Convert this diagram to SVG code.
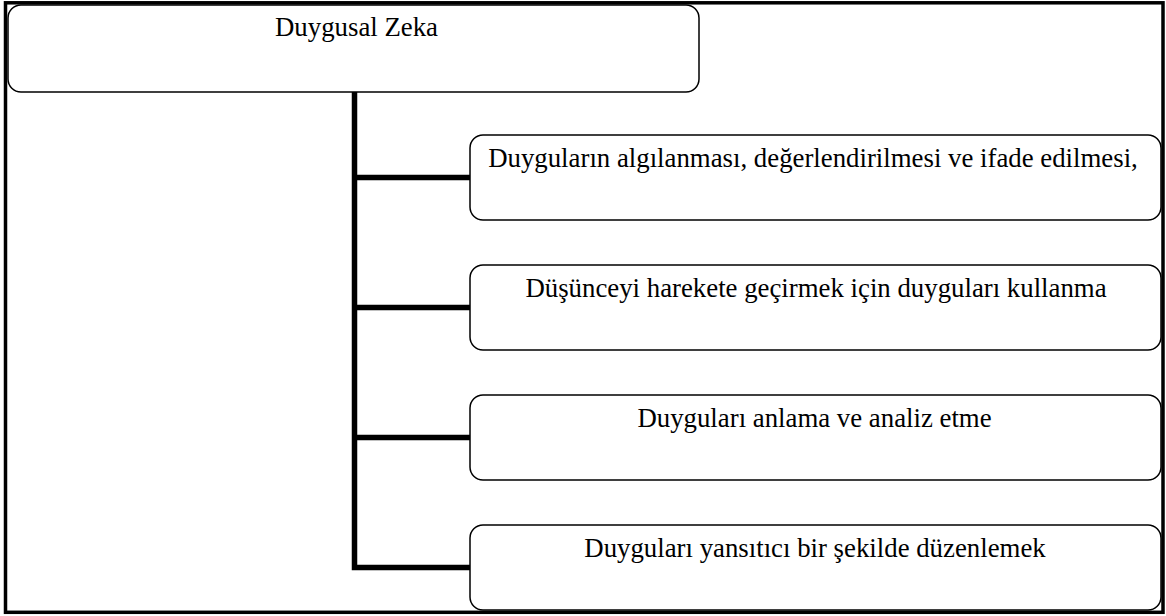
<svg xmlns="http://www.w3.org/2000/svg" width="1166" height="616" viewBox="0 0 1166 616">
<style>
.frame{fill:none;stroke:#000;stroke-width:3.5}
.box{fill:#fff;stroke:#000;stroke-width:1.5}
.conn{fill:none;stroke:#000;stroke-width:5.5;stroke-linejoin:miter}
.t{font-family:"Liberation Serif","Times New Roman",serif;font-size:26.8px;fill:#000;text-anchor:middle}
</style>
<rect x="0" y="0" width="1166" height="616" fill="#fff"/>
<rect class="frame" x="5.5" y="2.8" width="1157.5" height="609.5"/>
<g id="connectors">
<path class="conn" d="M354.5 92 V567.5 H470"/>
<path class="conn" d="M354.5 177.5 H470"/>
<path class="conn" d="M354.5 307.5 H470"/>
<path class="conn" d="M354.5 437.5 H470"/>
</g>
<g id="root">
<rect class="box" x="8" y="5" width="691" height="87" rx="13" ry="13"/>
<text class="t" x="356.5" y="36">Duygusal Zeka</text>
</g>
<g id="n1">
<rect class="box" x="470" y="135" width="691" height="85" rx="13" ry="13"/>
<text class="t" x="813" y="167">Duyguların algılanması, değerlendirilmesi ve ifade edilmesi,</text>
</g>
<g id="n2">
<rect class="box" x="470" y="265" width="691" height="85" rx="13" ry="13"/>
<text class="t" x="816" y="297">Düşünceyi harekete geçirmek için duyguları kullanma</text>
</g>
<g id="n3">
<rect class="box" x="470" y="395" width="691" height="85" rx="13" ry="13"/>
<text class="t" x="814.5" y="427">Duyguları anlama ve analiz etme</text>
</g>
<g id="n4">
<rect class="box" x="470" y="525" width="691" height="85" rx="13" ry="13"/>
<text class="t" x="815" y="557">Duyguları yansıtıcı bir şekilde düzenlemek</text>
</g>
</svg>
